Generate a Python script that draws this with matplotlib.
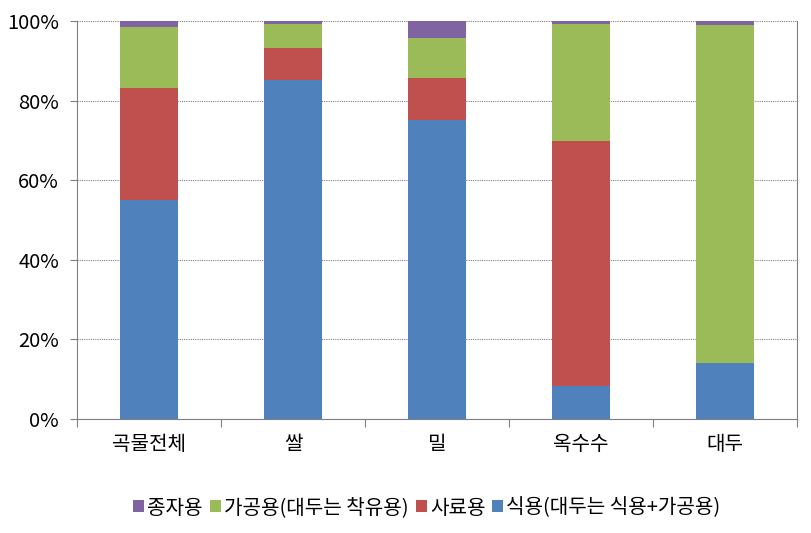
import matplotlib
matplotlib.use("Agg")
import matplotlib.pyplot as plt
from matplotlib.ticker import FuncFormatter
import numpy as np

plt.rcParams['font.family'] = ['Noto Sans CJK KR', 'DejaVu Sans']

categories = ['곡물전체', '쌀', '밀', '옥수수', '대두']
series_names = ['식용(대두는 식용+가공용)', '사료용', '가공용(대두는 착유용)', '종자용']
food = [55.1, 85.2, 75.1, 8.4, 14.0]
feed = [28.0, 8.0, 10.5, 61.4, 0.0]
processing = [15.3, 6.0, 10.2, 29.4, 84.9]
seed = [1.6, 0.8, 4.2, 0.8, 1.1]
colors = ['#4F81BD', '#C0504D', '#9BBB59', '#8064A2']

fig = plt.figure(figsize=(8.11, 5.33), dpi=100)
ax = fig.add_axes([77/811, 1-419/533, (797-77)/811, (419-21)/533])

x = np.arange(len(categories))
bottom = np.zeros(len(categories))
handles = []
for vals, name, c in zip([food, feed, processing, seed], series_names, colors):
    b = ax.bar(x, vals, width=0.4, bottom=bottom, color=c, label=name, zorder=3)
    handles.append(b)
    bottom += np.array(vals)

ax.set_xlim(-0.5, len(categories)-0.5)
ax.set_ylim(0, 100)
ax.set_yticks(np.arange(0, 101, 20))
ax.yaxis.set_major_formatter(FuncFormatter(lambda v, p: f'{int(v)}%'))
ax.grid(axis='y', linestyle=(0, (1, 1)), color='#808080', linewidth=0.8, zorder=0)
ax.set_xticks(x)
ax.set_xticklabels(categories)
ax.set_xticks(np.arange(-0.5, len(categories), 1.0), minor=True)
ax.tick_params(axis='x', which='major', length=0, pad=11, labelsize=14.5, colors='#000000')
ax.tick_params(axis='x', which='minor', length=6, color='#808080', width=0.8)
ax.tick_params(axis='y', length=5, color='#808080', width=0.8, labelsize=14.5, pad=8)
ax.spines['top'].set_visible(False)
for s in ['left', 'bottom', 'right']:
    ax.spines[s].set_color('#808080')
    ax.spines[s].set_linewidth(0.8)

leg = fig.legend(handles[::-1], series_names[::-1], loc='center', bbox_to_anchor=(427/811, 1-508/533),
                 ncol=4, frameon=False, fontsize=14.5, handlelength=0.55, handleheight=0.55,
                 handletextpad=0.15, columnspacing=0.35, borderpad=0)

fig.savefig('out.png', dpi=100)
